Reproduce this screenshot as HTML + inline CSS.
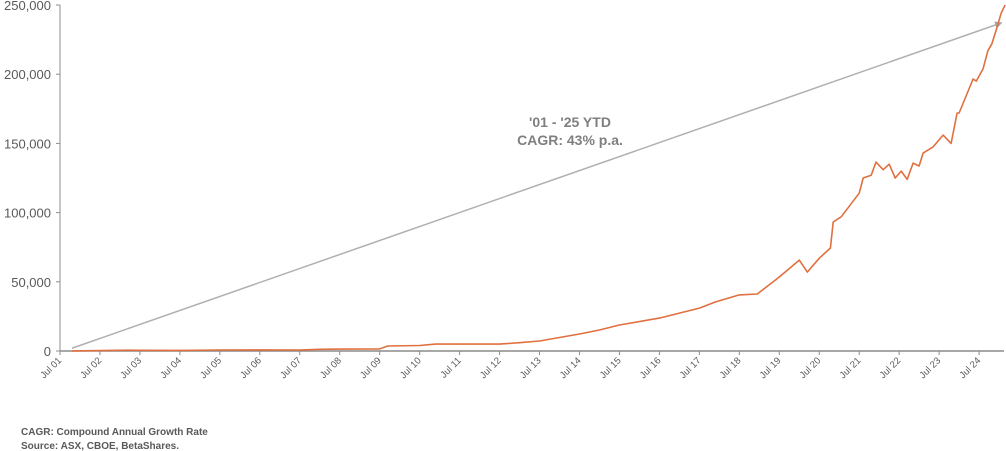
<!DOCTYPE html>
<html><head><meta charset="utf-8"><style>
body{margin:0;background:#fff;font-family:"Liberation Sans",Arial,sans-serif;}
svg{display:block}
</style></head><body>
<svg width="1006" height="451" xmlns="http://www.w3.org/2000/svg">
<g id="yaxis"></g>
<g id="xaxis"></g>
<g id="plot"></g>
<text x="570" y="127" text-anchor="middle" font-size="14" font-weight="bold" fill="#7f7f7f">'01 - '25 YTD</text>
<text x="570" y="145" text-anchor="middle" font-size="14" font-weight="bold" fill="#7f7f7f">CAGR: 43% p.a.</text>
<text x="21" y="435" font-size="10" font-weight="bold" fill="#595959">CAGR: Compound Annual Growth Rate</text>
<text x="21" y="449" font-size="10" font-weight="bold" fill="#595959">Source: ASX, CBOE, BetaShares.</text>
</svg>
<script>
const yTicks=[0,50000,100000,150000,200000,250000];
const xTickLabels=["Jul 01","Jul 02","Jul 03","Jul 04","Jul 05","Jul 06","Jul 07","Jul 08","Jul 09","Jul 10","Jul 11","Jul 12","Jul 13","Jul 14","Jul 15","Jul 16","Jul 17","Jul 18","Jul 19","Jul 20","Jul 21","Jul 22","Jul 23","Jul 24"];
const xTickYears=[2001.5,2002.5,2003.5,2004.5,2005.5,2006.5,2007.5,2008.5,2009.5,2010.5,2011.5,2012.5,2013.5,2014.5,2015.5,2016.5,2017.5,2018.5,2019.5,2020.5,2021.5,2022.5,2023.5,2024.5];
const dates=[2001.8,2002.5,2003.2,2003.5,2004.5,2005.5,2006.5,2007.5,2008.0,2008.5,2009.5,2009.7,2010.5,2010.9,2011.5,2012.5,2013.0,2013.5,2014.5,2015.0,2015.5,2016.5,2017.5,2017.9,2018.5,2018.95,2019.5,2020.0,2020.2,2020.5,2020.78,2020.85,2021.05,2021.5,2021.6,2021.8,2021.92,2022.1,2022.25,2022.4,2022.55,2022.7,2022.85,2023.0,2023.1,2023.35,2023.6,2023.8,2023.95,2024.0,2024.35,2024.43,2024.6,2024.72,2024.82,2024.95,2025.05,2025.15];
const values=[100,300,600,500,400,700,800,700,1200,1400,1500,3600,4000,5000,5000,5000,6000,7200,12300,15200,18800,23800,31000,35400,40500,41200,53500,65700,57000,67000,74400,93200,97000,114000,125000,127000,136500,131000,135000,125000,130000,124000,135800,133700,143000,147500,156000,150000,172000,172000,196500,195000,204000,217000,222000,234000,244000,250000];
const trendStart=[2001.8,2000];
const trendEnd=[2025.05,237000];
const NS="http://www.w3.org/2000/svg";
const x0=60,y0=351,pxPerYear=39.96,pxPerUnit=346/250000;
function xs(t){return x0+(t-2001.5)*pxPerYear;}
function ys(v){return y0-v*pxPerUnit;}
function mk(tag,attrs,parent){const e=document.createElementNS(NS,tag);for(const k in attrs)e.setAttribute(k,attrs[k]);parent.appendChild(e);return e;}
const ya=document.getElementById('yaxis'),xa=document.getElementById('xaxis'),pl=document.getElementById('plot');
let l=mk('line',{x1:x0,y1:ys(250000),x2:x0,y2:y0,stroke:'#8c8c8c','stroke-width':1},ya);


yTicks.forEach(v=>{
 const t=mk('line',{x1:x0-4,x2:x0,y1:ys(v),y2:ys(v),stroke:'#8c8c8c'},ya);
 
 
 const tx=mk('text',{x:x0-9,y:ys(v)+5,'text-anchor':'end','font-size':13,fill:'#595959'},ya);
 tx.textContent=v.toLocaleString('en-US');
 
 
});
l=mk('line',{x1:x0,y1:y0,x2:1004,y2:y0,stroke:'#8c8c8c','stroke-width':1.5},xa);


xTickYears.forEach((yr,i)=>{
 const x=xs(yr);
 const t=mk('line',{x1:x,x2:x,y1:y0,y2:y0+4,stroke:'#8c8c8c'},xa);
 
 
 const tx=mk('text',{x:x+2,y:y0+10,'text-anchor':'end','font-size':9.5,fill:'#595959',transform:`rotate(-45 ${x+2} ${y0+10})`},xa);
 tx.textContent=xTickLabels[i];
 
 
});
const defs=mk('defs',{},pl);
const m=mk('marker',{id:'arr',viewBox:'0 0 10 10',refX:8,refY:5,markerWidth:5,markerHeight:5,orient:'auto'},defs);
mk('path',{d:'M0,0L10,5L0,10z',fill:'#a6a6a6'},m);
const tl=mk('line',{x1:xs(trendStart[0]),y1:ys(trendStart[1]),x2:xs(trendEnd[0]),y2:ys(trendEnd[1]),stroke:'#b0b0b0','stroke-width':1.5,'marker-end':'url(#arr)'},pl);


const pts=dates.map((d,i)=>xs(d).toFixed(1)+','+ys(values[i]).toFixed(1)).join(' ');
const pLine=mk('polyline',{points:pts,fill:'none',stroke:'#e0703f','stroke-width':1.6,'stroke-linejoin':'round'},pl);


</script>
</body></html>
